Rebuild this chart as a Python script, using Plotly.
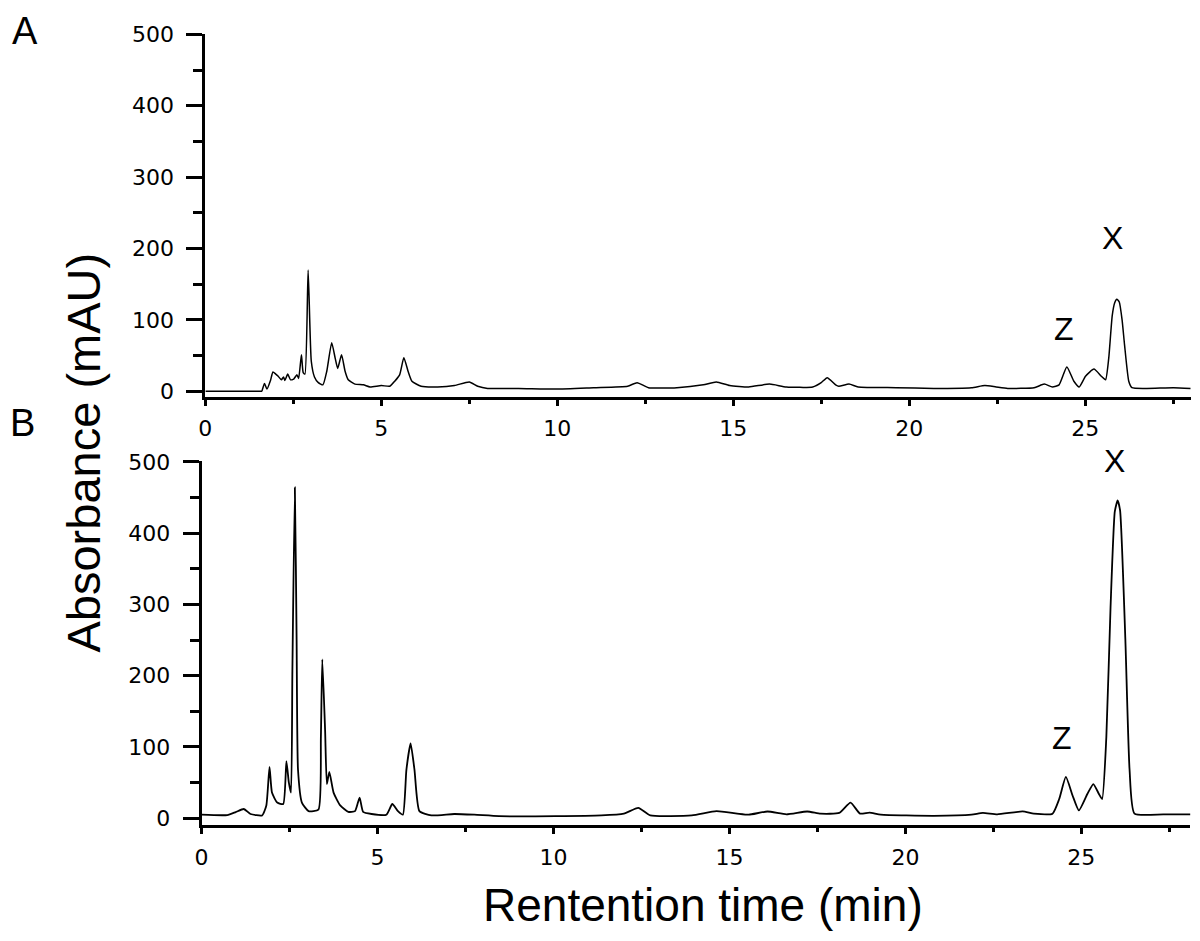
import plotly.graph_objects as go

# page is 1200x941, body has an 8px default margin
PAGE_OFF = 8
W, H = 1184, 925

# Panel A chromatogram: retention time (min) / absorbance (mAU)
time_a = [0, 1.00, 1.55, 1.60, 1.68, 1.75, 1.85, 1.92, 2.00, 2.07, 2.16, 2.22, 2.26, 2.34,
          2.42, 2.51, 2.60, 2.65, 2.73, 2.78, 2.83, 2.92, 3.01, 3.10, 3.21, 3.34, 3.45,
          3.59, 3.69, 3.76, 3.87, 3.97, 4.06, 4.25, 4.49, 4.68, 5.00, 5.24, 5.38, 5.52,
          5.64, 5.76, 5.87, 6.13, 6.60, 7.08, 7.50, 7.74, 8.02, 8.90, 9.96, 11.03, 12.00,
          12.27, 12.59, 13.40, 14.15, 14.52, 14.90, 15.44, 16.03, 16.51, 17.26, 17.50,
          17.67, 17.91, 18.00, 18.29, 18.55, 19.63, 20.70, 21.77, 22.15, 22.47, 22.80,
          23.55, 23.84, 24.07, 24.26, 24.48, 24.68, 24.83, 25.01, 25.25, 25.46, 25.58,
          25.67, 25.77, 25.84, 25.90, 25.97, 26.05, 26.12, 26.24, 26.33, 26.75, 27.51, 28.00]
abs_a = [0, 0, 0, 0, 11, 3, 15, 27, 24, 21, 16, 20, 15, 24,
         16, 17, 23, 18, 51, 26, 24, 170, 42, 20, 12, 9, 28,
         68, 46, 32, 51, 28, 16, 10, 9, 6, 8, 7, 14, 23,
         47, 28, 14, 7, 6, 8, 13, 7, 4, 4, 3, 5, 7,
         12, 5, 5, 9, 13, 8, 6, 10, 6, 6, 12,
         19, 9, 7, 10, 6, 5, 4, 5, 8, 6, 4,
         5, 10, 6, 9, 34, 14, 6, 21, 31, 21, 16,
         46, 106, 124, 129, 125, 100, 65, 14, 5, 4, 5, 4]

# Panel B chromatogram
time_b = [0, 0.73, 0.97, 1.20, 1.39, 1.72, 1.84, 1.93, 2.00, 2.15, 2.32, 2.41, 2.48, 2.54,
          2.58, 2.65, 2.70, 2.74, 2.85, 3.04, 3.32, 3.39, 3.43, 3.51, 3.56, 3.63, 3.75,
          3.94, 4.17, 4.36, 4.49, 4.59, 4.83, 5.25, 5.42, 5.58, 5.72, 5.82, 5.94, 6.05,
          6.19, 6.53, 7.18, 7.75, 8.45, 10.06, 11.36, 12.00, 12.41, 12.75, 13.93, 14.63,
          15.22, 15.55, 16.08, 16.62, 17.21, 17.59, 18.12, 18.44, 18.71, 18.98, 19.30,
          20.81, 21.88, 22.20, 22.61, 23.33, 23.65, 24.18, 24.37, 24.56, 24.75, 24.93,
          25.17, 25.34, 25.50, 25.59, 25.71, 25.83, 25.95, 26.03, 26.10, 26.25, 26.37,
          26.51, 27.33, 28.10]
abs_b = [5, 4.5, 8.7, 13, 6, 4, 18, 72, 36, 22, 20, 80, 50, 36,
         206, 464, 251, 68, 22, 10, 12, 114, 223, 123, 48, 65, 36,
         18, 9, 10, 29, 9, 6, 5, 20, 10, 5, 68, 105, 68,
         10, 4, 6, 5, 3, 3, 4, 6.5, 14.7, 4, 4, 10,
         6.5, 5, 9.5, 5.5, 9.5, 6.5, 7.5, 22, 6.5, 8, 5,
         3.5, 5, 7.5, 5.5, 9.6, 6.5, 6.5, 27, 58, 32, 11,
         34, 48, 34, 27, 114, 297, 430, 446, 432, 251, 68,
         6.5, 5.5, 5.5]

panel_labels = ["A", "B"]
peak_labels = ["Z", "X"]
peak_pos_a = [(1063, 323), (1112, 231)]
peak_pos_b = [(1061, 741), (1114, 458)]

x_ticks = [0, 5, 10, 15, 20, 25]
y_ticks = [0, 100, 200, 300, 400, 500]

TICK_FONT = dict(family="DejaVu Sans", size=22, color="black")
PX_PER_MIN = 35.4


def px_x(p):
    return (p - PAGE_OFF) / W


def px_y(p):
    return 1 - (p - PAGE_OFF) / H


fig = go.Figure()
fig.add_trace(go.Scatter(x=time_a, y=abs_a, mode="lines", xaxis="x", yaxis="y",
                         line=dict(color="black", width=1.5, shape="spline", smoothing=0.5),
                         showlegend=False))
fig.add_trace(go.Scatter(x=time_b, y=abs_b, mode="lines", xaxis="x2", yaxis="y2",
                         line=dict(color="black", width=1.8, shape="spline", smoothing=0.5),
                         showlegend=False))


def xaxis(x0px, xmax, anchor):
    return dict(
        domain=[px_x(x0px), min(1, px_x(x0px + PX_PER_MIN * xmax))], range=[0, xmax],
        anchor=anchor,
        tickvals=x_ticks, ticks="outside", ticklen=6, tickwidth=3, tickcolor="black",
        minor=dict(dtick=2.5, tick0=0, ticks="outside", ticklen=4, tickwidth=2.5,
                   tickcolor="black"),
        showline=True, linewidth=3, linecolor="black", showgrid=False, zeroline=False,
        tickfont=TICK_FONT, ticklabelstandoff=4,
    )


def yaxis(top_px, bottom_px, rng, anchor):
    return dict(
        domain=[px_y(bottom_px), px_y(top_px)], range=rng, anchor=anchor,
        tickvals=y_ticks, ticks="outside", ticklen=16, tickwidth=2.5, tickcolor="black",
        minor=dict(dtick=50, tick0=0, ticks="outside", ticklen=9, tickwidth=2.5,
                   tickcolor="black"),
        showline=True, linewidth=3, linecolor="black", showgrid=False, zeroline=False,
        tickfont=TICK_FONT, ticklabelstandoff=8,
    )


fig.update_layout(
    width=W, height=H, margin=dict(l=0, r=0, t=0, b=0),
    plot_bgcolor="white", paper_bgcolor="white",
    xaxis=xaxis(199.5, 28.0, "y"),
    yaxis=yaxis(22, 393, [-8.2, 501], "x"),
    xaxis2=xaxis(195.7, 28.1, "y2"),
    yaxis2=yaxis(458, 830, [-9.6, 501.5], "x2"),
)

annotations = []
for lab, (ax, ay) in zip(panel_labels, [(18, 19), (16, 419)]):
    annotations.append(dict(text=lab, x=px_x(ax), y=px_y(ay), xref="paper", yref="paper",
                            showarrow=False, xanchor="center", yanchor="middle",
                            font=dict(family="Liberation Sans", size=38, color="black")))
for pos in (peak_pos_a, peak_pos_b):
    for lab, (ax, ay) in zip(peak_labels, pos):
        annotations.append(dict(text=lab, x=px_x(ax), y=px_y(ay), xref="paper", yref="paper",
                                showarrow=False, xanchor="center", yanchor="middle",
                                font=dict(family="Liberation Sans", size=32, color="black")))
annotations.append(dict(text="Absorbance (mAU)", textangle=-90, x=px_x(77), y=px_y(450),
                        xref="paper", yref="paper", showarrow=False,
                        xanchor="center", yanchor="middle",
                        font=dict(family="Liberation Sans", size=47, color="black")))
annotations.append(dict(text="Rentention time (min)", x=px_x(700), y=px_y(912),
                        xref="paper", yref="paper", showarrow=False,
                        xanchor="center", yanchor="middle",
                        font=dict(family="Liberation Sans", size=46, color="black")))
fig.update_layout(annotations=annotations)

fig.write_html("out.html", config={"displayModeBar": False})
